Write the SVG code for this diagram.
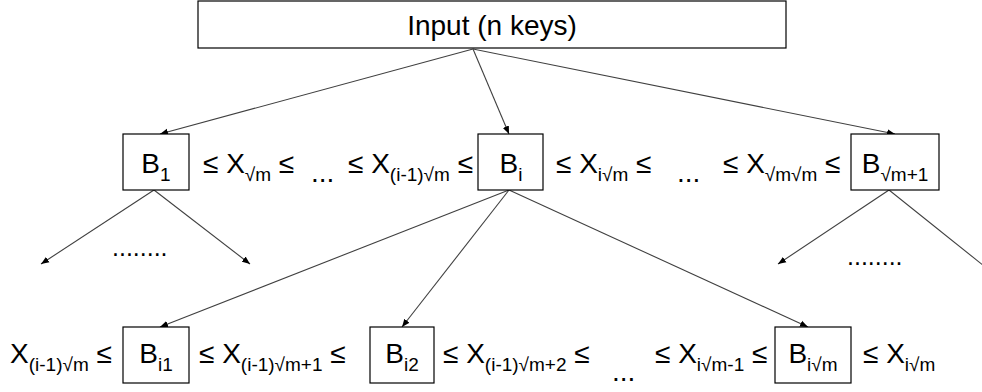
<svg xmlns="http://www.w3.org/2000/svg" width="982" height="392" viewBox="0 0 982 392">
<style>
.box{fill:#fff;stroke:#000;stroke-width:1.2}
text{font-family:"Liberation Sans",Arial,sans-serif;font-size:28px;fill:#000}
.sub{font-size:19px}
.edge{stroke:#404040;stroke-width:1.1;fill:none;marker-end:url(#ah)}
.line{stroke:#404040;stroke-width:1.1;fill:none}
</style>
<defs>
<marker id="ah" viewBox="0 0 10 10" refX="10" refY="5" markerWidth="8" markerHeight="8" markerUnits="userSpaceOnUse" orient="auto">
<path d="M0,1 L10,5 L0,9 Z" fill="#000"/>
</marker>
</defs>
<rect width="982" height="392" fill="#fff"/>
<g id="connectors">
<line class="edge" x1="473" y1="49" x2="160" y2="134"/>
<line class="edge" x1="473" y1="49" x2="509" y2="134"/>
<line class="edge" x1="473" y1="49" x2="895" y2="134"/>
<line class="edge" x1="154" y1="190" x2="41" y2="264"/>
<line class="edge" x1="154" y1="190" x2="250" y2="264"/>
<line class="edge" x1="509" y1="190" x2="160" y2="327"/>
<line class="edge" x1="509" y1="190" x2="402" y2="327"/>
<line class="edge" x1="509" y1="190" x2="808" y2="327"/>
<line class="edge" x1="889" y1="190" x2="778" y2="264"/>
<line class="line" x1="889" y1="190" x2="984" y2="266"/>
</g>
<g id="input">
<rect class="box" x="198" y="1" width="588" height="47"/>
<text x="492" y="35" text-anchor="middle">Input (n keys)</text>
</g>
<g id="B1">
<rect class="box" x="123" y="134" width="66" height="56"/>
<text x="156" y="173" text-anchor="middle">B<tspan class="sub" dy="8">1</tspan></text>
</g>
<g id="Bi">
<rect class="box" x="478" y="134" width="65" height="56"/>
<text x="511" y="173" text-anchor="middle">B<tspan class="sub" dy="8">i</tspan></text>
</g>
<g id="Bsqrtm1">
<rect class="box" x="851" y="134" width="88" height="56"/>
<text x="895" y="173" text-anchor="middle">B<tspan class="sub" dy="8">√m+1</tspan></text>
</g>
<g id="Bi1">
<rect class="box" x="123" y="327" width="66" height="56"/>
<text x="156" y="363" text-anchor="middle">B<tspan class="sub" dy="8">i1</tspan></text>
</g>
<g id="Bi2">
<rect class="box" x="370" y="327" width="64" height="56"/>
<text x="402" y="363" text-anchor="middle">B<tspan class="sub" dy="8">i2</tspan></text>
</g>
<g id="Bisqrtm">
<rect class="box" x="775" y="327" width="76" height="56"/>
<text x="813" y="363" text-anchor="middle">B<tspan class="sub" dy="8">i√m</tspan></text>
</g>
<g id="labels">
<text x="203" y="173">≤ X<tspan class="sub" dy="8">√m</tspan><tspan dy="-8"> ≤</tspan></text>
<text x="311" y="182">...</text>
<text x="348" y="173">≤ X<tspan class="sub" dy="8">(i-1)√m</tspan><tspan dy="-8"> ≤</tspan></text>
<text x="556" y="173">≤ X<tspan class="sub" dy="8">i√m</tspan><tspan dy="-8"> ≤</tspan></text>
<text x="677" y="182">...</text>
<text x="723" y="173">≤ X<tspan class="sub" dy="8">√m√m</tspan><tspan dy="-8"> ≤</tspan></text>
<text x="112" y="256" style="font-size:25px">........</text>
<text x="847" y="265" style="font-size:25px">........</text>
<text x="10" y="363">X<tspan class="sub" dy="8">(i-1)√m</tspan><tspan dy="-8"> ≤</tspan></text>
<text x="199" y="363">≤ X<tspan class="sub" dy="8">(i-1)√m+1</tspan><tspan dy="-8"> ≤</tspan></text>
<text x="443" y="363">≤ X<tspan class="sub" dy="8">(i-1)√m+2</tspan><tspan dy="-8"> ≤</tspan></text>
<text x="612" y="381">...</text>
<text x="655" y="363">≤ X<tspan class="sub" dy="8">i√m-1</tspan><tspan dy="-8"> ≤</tspan></text>
<text x="863" y="363">≤ X<tspan class="sub" dy="8">i√m</tspan></text>
</g>
</svg>
